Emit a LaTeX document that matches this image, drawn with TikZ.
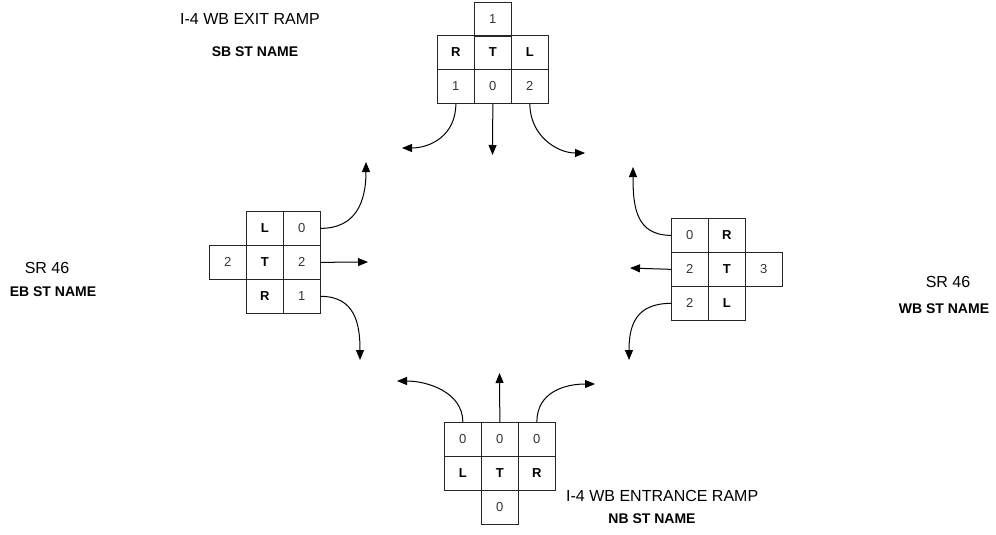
\documentclass[tikz,border=0pt]{standalone}
\usepackage{fontspec}
\setmainfont{Liberation Sans}
\usetikzlibrary{arrows.meta}
\begin{document}
\begin{tikzpicture}[x=1pt,y=-1pt,
  cell/.style={draw=black!85,line width=0.7pt,minimum width=37pt,minimum height=34pt,inner sep=0pt,anchor=north west,text=black!80,font=\fontsize{13}{13}\selectfont},
  lt/.style={cell,text=black,font=\fontsize{13}{13}\selectfont\bfseries},
  flow/.style={line width=1pt,-{Triangle[length=10pt,width=8pt]}},
  title/.style={inner sep=0pt,font=\fontsize{16}{16}\selectfont},
  sub/.style={inner sep=0pt,font=\fontsize{14}{14}\selectfont\bfseries}]
\useasboundingbox (0,0) rectangle (996,535);
% top block
\node[cell] (t1) at (474,2) {1};
\node[lt] (tR) at (437,35) {R};
\node[lt] (tT) at (474,35) {T};
\node[lt] (tL) at (511,35) {L};
\node[cell] (t1b) at (437,69) {1};
\node[cell] (t0) at (474,69) {0};
\node[cell] (t2) at (511,69) {2};
\coordinate (tae1) at (402,148);
\coordinate (tae2) at (492.5,155);
\coordinate (tae3) at (585,153);
\draw[flow] (t1b.south) .. controls +(0,32) and +(28,0) .. (tae1);
\draw[flow] (t0.south) -- (tae2);
\draw[flow] (t2.south) .. controls +(0,32) and +(-28,0) .. (tae3);
% left block
\node[lt] (lL) at (246,211) {L};
\node[cell] (l0) at (283,211) {0};
\node[cell] (l2a) at (209,245) {2};
\node[lt] (lT) at (246,245) {T};
\node[cell] (l2b) at (283,245) {2};
\node[lt] (lR) at (246,279) {R};
\node[cell] (l1) at (283,279) {1};
\coordinate (lae1) at (366,162);
\coordinate (lae2) at (368,262);
\coordinate (lae3) at (360,360);
\draw[flow] (l0.east) .. controls +(35,0) and +(0,40) .. (lae1);
\draw[flow] (l2b.east) -- (lae2);
\draw[flow] (l1.east) .. controls +(35,0) and +(0,-35) .. (lae3);
% right block
\node[cell] (r0) at (671,218) {0};
\node[lt] (rR) at (708,218) {R};
\node[cell] (r2a) at (671,252) {2};
\node[lt] (rT) at (708,252) {T};
\node[cell] (r3) at (745,252) {3};
\node[cell] (r2b) at (671,286) {2};
\node[lt] (rL) at (708,286) {L};
\coordinate (rae1) at (633,167);
\coordinate (rae2) at (630,268);
\coordinate (rae3) at (629,360);
\draw[flow] (r0.west) .. controls +(-35,0) and +(0,40) .. (rae1);
\draw[flow] (r2a.west) -- (rae2);
\draw[flow] (r2b.west) .. controls +(-35,0) and +(0,-35) .. (rae3);
% bottom block
\node[cell] (b0a) at (444,422) {0};
\node[cell] (b0b) at (481,422) {0};
\node[cell] (b0c) at (518,422) {0};
\node[lt] (bL) at (444,456) {L};
\node[lt] (bT) at (481,456) {T};
\node[lt] (bR) at (518,456) {R};
\node[cell] (b0d) at (481,490) {0};
\coordinate (bae1) at (397,381);
\coordinate (bae2) at (499.5,373);
\coordinate (bae3) at (595,384);
\draw[flow] (b0a.north) .. controls +(0,-30) and +(30,0) .. (bae1);
\draw[flow] (b0b.north) -- (bae2);
\draw[flow] (b0c.north) .. controls +(0,-30) and +(-30,0) .. (bae3);
% labels
\node[title] (tt) at (250,19) {I-4 WB EXIT RAMP};
\node[sub] (ts) at (255,52) {SB ST NAME};
\node[title] (lt1) at (47,268) {SR 46};
\node[sub] (ls) at (53,292) {EB ST NAME};
\node[title] (rt1) at (948,282) {SR 46};
\node[sub] (rs) at (944,309) {WB ST NAME};
\node[title,anchor=west] (bt) at (566,496) {I-4 WB ENTRANCE RAMP};
\node[sub] (bs) at (652,519) {NB ST NAME};
\end{tikzpicture}
\end{document}
